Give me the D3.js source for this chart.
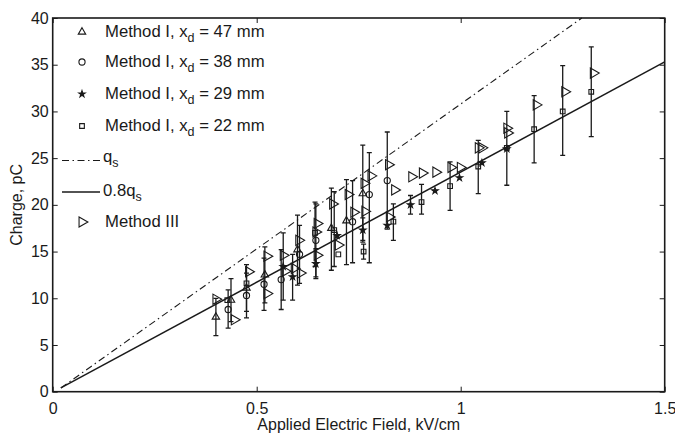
<!DOCTYPE html>
<html>
<title>Charge vs field</title>
<meta charset="UTF-8">
<script type="text/javascript" src="https://d3js.org/d3.v7.min.js"></script>
<style type="text/css">
	body {
		margin:0;
		background:#fff;
	}
	svg text {
		font-family: "Liberation Sans", Arial, sans-serif;
		fill: #1a1a1a;
	}
</style>
<body>
	<svg id="viz" width="675" height="434"></svg>
</body>
<script type="text/javascript">

	var xTicks = [0, 0.5, 1, 1.5];
	var xTickLabels = ["0", "0.5", "1", "1.5"];
	var yTicks = [0, 5, 10, 15, 20, 25, 30, 35, 40];

	// [field kV/cm, charge pC, bar low, bar high]
	var tri47 = [
		[0.40, 8.0, 6.0, 10.0],
		[0.437, 9.8, 7.5, 12.1],
		[0.475, 11.1, 8.6, 13.6],
		[0.52, 12.5, 9.5, 15.5],
		[0.60, 15.2, 11.4, 18.9],
		[0.683, 17.5, 13.0, 21.8],
		[0.72, 18.3, 13.6, 22.7],
		[0.76, 21.2, 16.2, 26.4]
	];
	var circ38 = [
		[0.43, 8.8, 6.8, 10.9],
		[0.475, 10.3, 7.9, 12.7],
		[0.518, 11.5, 8.7, 14.3],
		[0.56, 12.0, 8.8, 15.2],
		[0.605, 14.7, 11.6, 17.8],
		[0.645, 16.2, 12.3, 20.1],
		[0.735, 18.2, 13.8, 22.6],
		[0.776, 21.1, 13.8, 25.6],
		[0.82, 22.6, 17.4, 27.8]
	];
	var star29 = [
		[0.565, 13.4, 9.8, 17.0],
		[0.588, 12.3, 9.8, 14.7],
		[0.645, 13.7, 12.1, 15.3],
		[0.697, 16.7, null, null],
		[0.76, 17.3, 16.0, 18.6],
		[0.82, 17.8, null, null],
		[0.877, 20.0, 19.0, 21.0],
		[0.937, 21.5, null, null],
		[0.997, 22.9, null, null],
		[1.052, 24.5, null, null],
		[1.113, 26.0, null, null]
	];
	var sq22 = [
		[0.428, 9.8, null, null],
		[0.475, 11.6, null, null],
		[0.643, 17.0, 13.4, 20.3],
		[0.69, 17.3, 13.4, 21.4],
		[0.70, 14.7, null, null],
		[0.762, 15.0, 14.2, 15.8],
		[0.835, 18.2, 16.2, 20.1],
		[0.904, 20.3, 19.0, 22.2],
		[0.974, 22.0, 19.4, 24.6],
		[1.043, 24.1, 21.2, 26.9],
		[1.113, 26.1, 22.1, 30.0],
		[1.18, 28.1, 24.5, 31.7],
		[1.25, 30.0, 25.3, 34.9],
		[1.32, 32.1, 27.3, 36.9]
	];
	var method3 = [
		[0.40, 9.9], [0.445, 7.7], [0.48, 12.85], [0.525, 14.5], [0.525, 10.5],
		[0.565, 14.6], [0.57, 12.9], [0.592, 13.2], [0.603, 16.2], [0.607, 12.7],
		[0.648, 18.0], [0.645, 17.1], [0.648, 14.6], [0.686, 20.1], [0.70, 15.7],
		[0.724, 21.1], [0.738, 19.2], [0.763, 22.3], [0.78, 23.1], [0.765, 19.3],
		[0.823, 24.3], [0.838, 21.6], [0.825, 18.7], [0.88, 23.0], [0.906, 23.4],
		[0.939, 23.5], [0.976, 24.0], [0.999, 24.0], [1.043, 26.1], [1.052, 26.1],
		[1.113, 28.2], [1.115, 27.7], [1.185, 30.7], [1.255, 32.1], [1.325, 34.1]
	];
	var qsLine = [[0.02, 0.4], [1.297, 40]];
	var q08Line = [[0.02, 0.4], [1.5, 35.3]];

	var ink = "#1a1a1a";

	var xScale = d3.scaleLinear().domain([0, 1.5]).range([52.7, 664.7]);
	var yScale = d3.scaleLinear().domain([0, 40]).range([391.7, 18]);

	var svg = d3.select("#viz");

	// axes with inward ticks on all four sides
	svg.append("g")
		.attr("transform", "translate(0," + yScale(0) + ")")
		.call(d3.axisBottom(xScale).tickValues(xTicks).tickSizeInner(-5).tickSizeOuter(0)
			.tickPadding(11).tickFormat(function(d, i){ return xTickLabels[i]; }));
	svg.append("g")
		.attr("transform", "translate(0," + yScale(40) + ")")
		.call(d3.axisTop(xScale).tickValues(xTicks).tickSizeInner(-5).tickSizeOuter(0).tickFormat(""));
	svg.append("g")
		.attr("transform", "translate(" + xScale(0) + ",0)")
		.call(d3.axisLeft(yScale).tickValues(yTicks).tickSizeInner(-5).tickSizeOuter(0).tickPadding(4));
	svg.append("g")
		.attr("transform", "translate(" + xScale(1.5) + ",0)")
		.call(d3.axisRight(yScale).tickValues(yTicks).tickSizeInner(-5).tickSizeOuter(0).tickFormat(""));

	svg.selectAll(".domain").remove();
	svg.selectAll(".tick line").attr("stroke", ink).attr("stroke-width", 1);
	svg.selectAll(".tick text").attr("font-size", 16).style("fill", ink)
		.attr("font-family", "'Liberation Sans', Arial, sans-serif");

	svg.append("rect")
		.attr("x", xScale(0)).attr("y", yScale(40))
		.attr("width", xScale(1.5) - xScale(0))
		.attr("height", yScale(0) - yScale(40))
		.attr("fill", "none").attr("stroke", ink).attr("stroke-width", 1.6);

	// axis titles
	svg.append("text")
		.attr("x", xScale(0.75)).attr("y", 430)
		.attr("text-anchor", "middle").attr("font-size", 16)
		.text("Applied Electric Field, kV/cm");
	svg.append("text")
		.attr("transform", "translate(22," + yScale(20) + ") rotate(-90)")
		.attr("text-anchor", "middle").attr("font-size", 16)
		.text("Charge, pC");

	// theory lines
	var line = d3.line()
		.x(function(d){ return xScale(d[0]); })
		.y(function(d){ return yScale(d[1]); });

	svg.append("path").datum(qsLine).attr("d", line)
		.attr("fill", "none").attr("stroke", ink).attr("stroke-width", 1.1)
		.attr("stroke-dasharray", "7,3.5,1.5,3.5");
	svg.append("path").datum(q08Line).attr("d", line)
		.attr("fill", "none").attr("stroke", ink).attr("stroke-width", 1.5);

	// error bars
	var barData = [].concat(tri47, circ38, star29, sq22).filter(function(d){ return d[2] != null; });
	var bars = svg.append("g").attr("stroke", ink).attr("stroke-width", 1.3);
	bars.selectAll(".bar").data(barData).enter().append("path")
		.attr("d", function(d){
			var x = xScale(d[0]), lo = yScale(d[2]), hi = yScale(d[3]);
			return "M" + x + "," + lo + "V" + hi +
				"M" + (x - 2.5) + "," + lo + "H" + (x + 2.5) +
				"M" + (x - 2.5) + "," + hi + "H" + (x + 2.5);
		});

	// markers
	var series = [
		{data: tri47, sym: d3.symbolTriangle, size: 24, rot: 0, fill: "none"},
		{data: circ38, sym: d3.symbolCircle, size: 30, rot: 0, fill: "none"},
		{data: star29, sym: d3.symbolStar, size: 13, rot: 0, fill: ink},
		{data: sq22, sym: d3.symbolSquare, size: 22, rot: 0, fill: "none"},
		{data: method3, sym: d3.symbolTriangle, size: 45, rot: 90, fill: "none"}
	];

	series.forEach(function(s){
		svg.append("g").selectAll("path").data(s.data).enter().append("path")
			.attr("d", d3.symbol().type(s.sym).size(s.size))
			.attr("transform", function(d){
				return "translate(" + xScale(d[0]) + "," + yScale(d[1]) + ") rotate(" + s.rot + ")";
			})
			.attr("fill", s.fill).attr("stroke", ink).attr("stroke-width", 1.1);
	});

	// legend
	var legend = svg.append("g");
	var legRows = [
		{k: 0, y: 32, label: "47"},
		{k: 1, y: 62, label: "38"},
		{k: 2, y: 94, label: "29"},
		{k: 3, y: 126, label: "22"}
	];
	legRows.forEach(function(r){
		var s = series[r.k];
		legend.append("path")
			.attr("d", d3.symbol().type(s.sym).size(s.size))
			.attr("transform", "translate(82," + r.y + ")")
			.attr("fill", s.fill).attr("stroke", ink).attr("stroke-width", 1.1);
		var t = legend.append("text").attr("x", 105).attr("y", r.y + 5).attr("font-size", 16.7);
		t.append("tspan").text("Method I, x");
		t.append("tspan").attr("font-size", 12.5).attr("dy", 5).text("d");
		t.append("tspan").attr("dy", -5).text(" = " + r.label + " mm");
	});

	legend.append("line").attr("x1", 62).attr("x2", 100).attr("y1", 160.5).attr("y2", 160.5)
		.attr("stroke", ink).attr("stroke-width", 1.1).attr("stroke-dasharray", "7,3.5,1.5,3.5");
	var tq = legend.append("text").attr("x", 103).attr("y", 162).attr("font-size", 16.7);
	tq.append("tspan").text("q");
	tq.append("tspan").attr("font-size", 12.5).attr("dy", 5).text("s");

	legend.append("line").attr("x1", 62).attr("x2", 100).attr("y1", 192).attr("y2", 192)
		.attr("stroke", ink).attr("stroke-width", 1.5);
	var t8 = legend.append("text").attr("x", 103).attr("y", 196).attr("font-size", 16.7);
	t8.append("tspan").text("0.8q");
	t8.append("tspan").attr("font-size", 12.5).attr("dy", 5).text("s");

	legend.append("path")
		.attr("d", d3.symbol().type(d3.symbolTriangle).size(45))
		.attr("transform", "translate(82,222) rotate(90)")
		.attr("fill", "none").attr("stroke", ink).attr("stroke-width", 1.1);
	legend.append("text").attr("x", 105).attr("y", 227).attr("font-size", 16.7).text("Method III");

</script>
</html>
